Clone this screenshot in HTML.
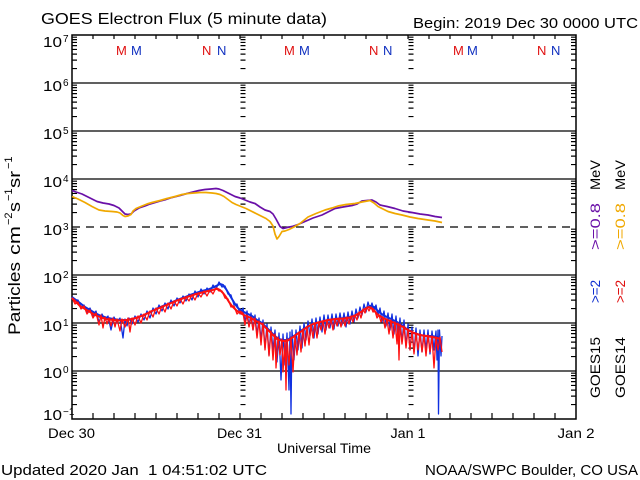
<!DOCTYPE html>
<html><head><meta charset="utf-8"><style>
html,body{margin:0;padding:0;background:#fff;}
svg{display:block;}
text{font-family:"Liberation Sans",sans-serif;fill:#000;}
</style></head><body>
<svg width="640" height="480" viewBox="0 0 640 480" xmlns="http://www.w3.org/2000/svg">
<defs>
<path id="t" d="M0 68.55h5M0 60.1h5M0 54.1h5M0 49.45h5M0 45.65h5M0 42.43h5M0 39.65h5M0 37.2h5
M0 116.55h5M0 108.1h5M0 102.1h5M0 97.45h5M0 93.65h5M0 90.43h5M0 87.65h5M0 85.2h5
M0 164.55h5M0 156.1h5M0 150.1h5M0 145.45h5M0 141.65h5M0 138.43h5M0 135.65h5M0 133.2h5
M0 212.55h5M0 204.1h5M0 198.1h5M0 193.45h5M0 189.65h5M0 186.43h5M0 183.65h5M0 181.2h5
M0 260.55h5M0 252.1h5M0 246.1h5M0 241.45h5M0 237.65h5M0 234.43h5M0 231.65h5M0 229.2h5
M0 308.55h5M0 300.1h5M0 294.1h5M0 289.45h5M0 285.65h5M0 282.43h5M0 279.65h5M0 277.2h5
M0 356.55h5M0 348.1h5M0 342.1h5M0 337.45h5M0 333.65h5M0 330.43h5M0 327.65h5M0 325.2h5
M0 404.55h5M0 396.1h5M0 390.1h5M0 385.45h5M0 381.65h5M0 378.43h5M0 375.65h5M0 373.2h5" stroke="#000" stroke-width="1.2" fill="none"/>
</defs>

<!-- titles -->
<text x="41" y="24" font-size="16" textLength="286" lengthAdjust="spacingAndGlyphs">GOES Electron Flux (5 minute data)</text>
<text x="413" y="28" font-size="15" textLength="225" lengthAdjust="spacingAndGlyphs">Begin: 2019 Dec 30 0000 UTC</text>

<!-- grid lines -->
<g stroke="#000" stroke-width="1.2">
<line x1="72" y1="83" x2="576" y2="83"/>
<line x1="72" y1="131" x2="576" y2="131"/>
<line x1="72" y1="179" x2="576" y2="179"/>
<line x1="72" y1="275" x2="576" y2="275"/>
<line x1="72" y1="323" x2="576" y2="323"/>
<line x1="72" y1="371" x2="576" y2="371"/>
</g>
<line x1="72" y1="227" x2="576" y2="227" stroke="#000" stroke-width="1.2" stroke-dasharray="8 6"/>

<!-- minor ticks -->
<use href="#t" x="72"/>
<use href="#t" x="571"/>
<use href="#t" x="240.5"/>
<use href="#t" x="408.5"/>

<!-- x ticks -->
<path d="M93 35v4M114 35v4M135 35v4M156 35v4M177 35v4M198 35v4M219 35v4M240 35v4M261 35v4M282 35v4M303 35v4M324 35v4M345 35v4M366 35v4M387 35v4M408 35v4M429 35v4M450 35v4M471 35v4M492 35v4M513 35v4M534 35v4M555 35v4
M93 419v-6M114 419v-6M135 419v-6M156 419v-6M177 419v-6M198 419v-6M219 419v-6M240 419v-6M261 419v-6M282 419v-6M303 419v-6M324 419v-6M345 419v-6M366 419v-6M387 419v-6M408 419v-6M429 419v-6M450 419v-6M471 419v-6M492 419v-6M513 419v-6M534 419v-6M555 419v-6" stroke="#000" stroke-width="1.2" fill="none"/>

<!-- frame -->
<rect x="72" y="35" width="504" height="384" fill="none" stroke="#000" stroke-width="1.5"/>

<!-- M / N markers -->
<g font-size="13">
<text x="116" y="55" style="fill:#e01010">M</text>
<text x="131" y="55" style="fill:#1030c0">M</text>
<text x="202" y="55" style="fill:#e01010">N</text>
<text x="217" y="55" style="fill:#1030c0">N</text>
<text x="284" y="55" style="fill:#e01010">M</text>
<text x="299" y="55" style="fill:#1030c0">M</text>
<text x="369" y="55" style="fill:#e01010">N</text>
<text x="383" y="55" style="fill:#1030c0">N</text>
<text x="453" y="55" style="fill:#e01010">M</text>
<text x="467" y="55" style="fill:#1030c0">M</text>
<text x="537" y="55" style="fill:#e01010">N</text>
<text x="551" y="55" style="fill:#1030c0">N</text>
</g>

<!-- y labels -->
<g font-size="15">
<text x="43" y="47" textLength="19" lengthAdjust="spacingAndGlyphs">10</text>
<text x="43" y="91" textLength="19" lengthAdjust="spacingAndGlyphs">10</text>
<text x="43" y="139" textLength="19" lengthAdjust="spacingAndGlyphs">10</text>
<text x="43" y="187" textLength="19" lengthAdjust="spacingAndGlyphs">10</text>
<text x="43" y="235" textLength="19" lengthAdjust="spacingAndGlyphs">10</text>
<text x="43" y="283" textLength="19" lengthAdjust="spacingAndGlyphs">10</text>
<text x="43" y="331" textLength="19" lengthAdjust="spacingAndGlyphs">10</text>
<text x="43" y="378" textLength="19" lengthAdjust="spacingAndGlyphs">10</text>
<text x="43" y="420" textLength="19" lengthAdjust="spacingAndGlyphs">10</text>
</g>
<g font-size="10">
<text x="63" y="42">7</text>
<text x="63" y="86">6</text>
<text x="63" y="134">5</text>
<text x="63" y="182">4</text>
<text x="63" y="230">3</text>
<text x="63" y="278">2</text>
<text x="63" y="326">1</text>
<text x="63" y="373">0</text>
<text x="63" y="415">−1</text>
</g>

<!-- y axis title -->
<g transform="translate(20,335) rotate(-90)">
<text x="0" y="0" font-size="17" textLength="73" lengthAdjust="spacingAndGlyphs">Particles</text>
<text x="80" y="0" font-size="17" textLength="29" lengthAdjust="spacingAndGlyphs">cm</text>
<text x="110" y="-8" font-size="11">−2</text>
<text x="123" y="0" font-size="17" textLength="10" lengthAdjust="spacingAndGlyphs">s</text>
<text x="134" y="-8" font-size="11">−1</text>
<text x="147" y="0" font-size="17" textLength="17" lengthAdjust="spacingAndGlyphs">sr</text>
<text x="166" y="-8" font-size="11">−1</text>
</g>

<!-- right labels -->
<g font-size="14">
<g transform="translate(600,398) rotate(-90)">
<text x="0" y="0" textLength="61" lengthAdjust="spacingAndGlyphs">GOES15</text>
<text x="95" y="0" textLength="23" lengthAdjust="spacingAndGlyphs" style="fill:#1030d0">&gt;=2</text>
<text x="148" y="0" textLength="47" lengthAdjust="spacingAndGlyphs" style="fill:#6a10a8">&gt;=0.8</text>
<text x="208" y="0" textLength="30" lengthAdjust="spacingAndGlyphs">MeV</text>
</g>
<g transform="translate(625,398) rotate(-90)">
<text x="0" y="0" textLength="61" lengthAdjust="spacingAndGlyphs">GOES14</text>
<text x="95" y="0" textLength="23" lengthAdjust="spacingAndGlyphs" style="fill:#e01010">&gt;=2</text>
<text x="148" y="0" textLength="47" lengthAdjust="spacingAndGlyphs" style="fill:#f0a800">&gt;=0.8</text>
<text x="208" y="0" textLength="30" lengthAdjust="spacingAndGlyphs">MeV</text>
</g>
</g>

<!-- bottom labels -->
<g font-size="14" text-anchor="middle">
<text x="71.5" y="438" textLength="47" lengthAdjust="spacingAndGlyphs">Dec 30</text>
<text x="239.5" y="438" textLength="45" lengthAdjust="spacingAndGlyphs">Dec 31</text>
<text x="408" y="438" textLength="35" lengthAdjust="spacingAndGlyphs">Jan 1</text>
<text x="576" y="438" textLength="37" lengthAdjust="spacingAndGlyphs">Jan 2</text>
<text x="324" y="453" textLength="94" lengthAdjust="spacingAndGlyphs">Universal Time</text>
</g>
<text x="1" y="475" font-size="15" textLength="266" lengthAdjust="spacingAndGlyphs" style="white-space:pre">Updated 2020 Jan  1 04:51:02 UTC</text>
<text x="425" y="475" font-size="15" textLength="213" lengthAdjust="spacingAndGlyphs">NOAA/SWPC Boulder, CO USA</text>

<!-- >=0.8 MeV curves -->
<polyline fill="none" stroke="#6a10a8" stroke-width="1.7" stroke-linejoin="round" points="72,190.5 76,192 82,194 88,197 94,200 97,201.5 103,203 109,204 114,205.5 119,208 122,211 125,214 128,214.5 131,214 134,211 139,208 145,206 150,204 155,202.5 160,201 166,199.5 172,197.5 180,195.5 187,193.5 193,192 199,190.5 205,189.5 211,189 216,188.5 219,189 223,190.5 227,192.5 231,194.5 235,196.5 240,198 245,200 250,202 255,203.5 260,207 265,210 270,211.5 273,214 276,219 280,226.5 283,228.5 287,227.5 292,226.5 298,224.5 305,221.5 313,218 322,215 330,211 335,208.5 343,207 352,205.5 357,204 362,201 367,200.5 372,200 376,202 380,205 387,206.5 395,208.5 403,211 412,212.5 420,214 428,215 435,216.5 442,217.5"/>
<polyline fill="none" stroke="#f0a800" stroke-width="1.7" stroke-linejoin="round" points="72,196.5 78,199 85,202.5 92,206.5 99,210 105,211 112,211.5 117,212 120,213 123,215.5 125,216.5 128,216 131,214.5 133,211 136,208.5 142,206 147,204 152,202.5 160,200.5 167,198.5 175,196.5 182,194.5 188,193.5 194,193 200,192.5 206,192.5 212,193 216,193.5 220,194.5 224,196.5 228,199.5 232,202.5 236,204.5 241,206.5 246,208.5 251,211 256,213.5 261,216 266,218.5 270,221.5 273,226 275,234 277,239 279,236.5 282,231.5 285,231 289,229.5 294,227 300,223.5 308,217 316,213.5 325,210 332,208 338,206 346,204.5 355,203.5 362,202 370,200.5 374,203 378,206.5 383,209 388,211.5 395,213.5 402,215 410,217 418,218.5 428,220 435,221 442,222.5"/>

<!-- >=2 MeV GOES15 (blue) -->
<polyline fill="none" stroke="#1030e0" stroke-width="2" stroke-linejoin="round" points="72,297 76,300 80,303 85,307 90,310 95,313 100,315.5 106,317.5 113,319 120,320 127,320 134,318.5 140,316.5 146,314 152,311 158,308 164,305.5 170,303 177,300 184,297.5 190,295 196,293 202,291 208,289.5 213,287.5 217,285.5 220,284 223,285 226,289 229,294 232,299 235,304 238,308 242,311 247,313.5 252,316 257,320 262,323 267,328 272,333 277,338 282,340 287,340 292,337 297,334 302,330 307,327 313,324 320,322 328,320 336,319 344,318 350,317 356,315 361,312 366,308 370,306 374,307 378,311 383,315 390,318.5 397,322 403,326 408,330 414,333 420,335 426,336 432,336 437,337 440,338"/>
<polyline fill="none" stroke="#1030e0" stroke-width="1.3" stroke-linejoin="round" points="72,297 75,300 78,300 81,307 84,305 87,312 90,308 93,316 96,311 99,322 102,314 105,320 108,316 111,330 114,317 117,323 120,318 123,338 125,319 127,326 129,318 132,324 135,316 138,322 141,314 144,320 147,311 150,318 153,308 156,314 159,305 162,311 165,303 168,309 171,300 174,306 177,298 180,303 183,296 186,301 189,294 192,300 195,291 198,297 201,289 204,294 207,288 210,292 213,285 216,289 219,282 222,287 225,286 228,294 231,295 234,305 237,304 240,314 243,308 245,322 247,311 249,326 251,313 253,330 255,315 257,335 259,318 261,340 263,320 265,348 267,324 269,355 271,327 273,350 275,330 277,362 279,333 281,380 283,334 285,365 287,333 289,390 290,332 291,414 292,330 294,360 296,330 298,350 300,326 302,348 304,323 306,340 308,321 310,336 312,319 314,338 316,318 318,334 320,317 322,332 324,315 326,330 328,315 330,328 332,314 334,329 336,314 338,326 340,313 342,325 344,313 346,327 348,312 350,324 352,311 354,322 356,309 358,318 360,307 362,315 364,304 366,312 368,302 370,309 372,303 374,310 376,305 378,316 380,308 382,322 384,311 386,326 388,313 390,330 392,314 394,334 396,316 398,338 400,318 402,342 404,320 406,346 408,324 410,350 412,327 414,352 416,328 418,356 420,330 422,352 424,330 426,350 428,330 430,354 432,331 434,350 436,331 437,360 438,330 438.5,414 439.5,330 441,356 442,336"/>

<!-- >=2 MeV GOES14 (red) -->
<polyline fill="none" stroke="#ff1010" stroke-width="2" stroke-linejoin="round" points="72,298 76,302 80,306 85,309 90,312 95,315 100,317 106,319 113,320 120,320.5 127,320 134,318.5 140,316.5 146,314 152,311 158,308.5 164,306 170,303.5 177,300.5 184,298 190,296 196,294 202,292.5 208,291 213,290 217,288.5 220,290 223,293 226,297 229,302 232,306 236,310 240,313 245,315.5 250,317.5 256,321 262,324 267,329 272,334 277,339 282,341 287,341 292,338 297,334 302,331 307,327 313,324 320,322 328,320 336,319 344,318.5 350,317.5 356,315 361,312 365,309 369,307 373,309 377,314 383,318 390,321 397,324 403,327 408,330 414,333 420,335 426,336 432,337 437,338 440,339"/>
<polyline fill="none" stroke="#ff1010" stroke-width="1.3" stroke-linejoin="round" points="72,298 75,304 78,302 81,309 84,306 87,314 90,310 93,318 96,313 99,325 101,315 103,328 105,317 107,324 109,318 111,326 113,318 115,327 117,319 120,331 122,319 125,327 128,318 130,332 132,318 135,325 138,316 141,323 144,314 147,320 150,311 153,317 156,308 159,314 162,306 165,312 168,303 171,309 174,301 177,306 180,299 183,304 186,297 189,301 192,295 195,300 198,293 201,297 204,291 207,296 210,290 213,294 216,288 219,291 222,291 225,298 228,299 231,307 234,306 237,314 240,311 243,313 245,325 247,315 249,327 251,317 253,330 255,318 257,338 259,321 261,345 263,323 265,350 267,328 269,356 271,331 273,360 275,334 276,368 278,337 280,355 282,339 283,372 285,340 286,390 287,339 289,365 291,337 293,372 295,335 297,355 299,332 301,352 303,329 305,346 307,327 309,345 311,325 313,338 315,323 317,338 319,322 321,330 323,321 325,334 327,320 329,328 331,319 333,330 335,319 337,326 339,318 341,327 343,318 345,326 347,317 349,324 351,316 353,322 355,315 357,320 359,312 361,318 363,309 365,313 367,307 369,311 371,307 373,312 375,311 377,318 379,315 381,322 383,317 385,328 387,319 389,334 391,320 393,338 395,322 397,344 398,323 399,360 400,324 402,344 404,326 406,348 408,329 410,350 412,331 414,354 416,333 418,350 420,334 422,352 424,335 426,356 428,335 430,352 432,336 434,368 436,337 438,350 440,337 442,352"/>
</svg>
</body></html>
